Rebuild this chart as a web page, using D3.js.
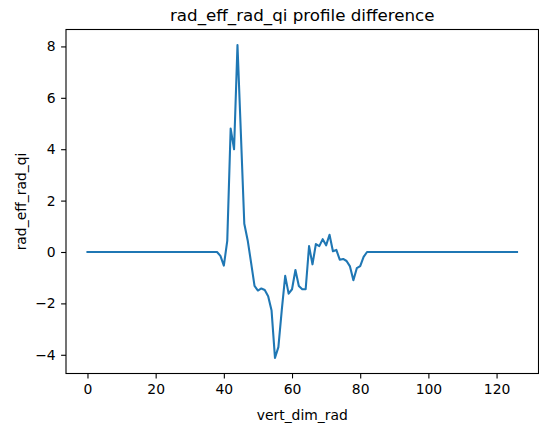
<!DOCTYPE html>
<html>
<head>
<meta charset="utf-8">
<script src="https://cdn.jsdelivr.net/npm/d3@7"></script>
<style>
  body { margin: 0; background: #fff; }
  text { font-family: "DejaVu Sans", sans-serif; fill: #000; }
</style>
</head>
<body>
<div id="chart"></div>
<script>
// profile difference values, one per vert_dim_rad level (0..126)
let diff = [
  0, 0, 0, 0, 0, 0, 0, 0, 0, 0,
  0, 0, 0, 0, 0, 0, 0, 0, 0, 0,
  0, 0, 0, 0, 0, 0, 0, 0, 0, 0,
  0, 0, 0, 0, 0, 0, 0, 0, 0, -0.15,
  -0.53, 0.43, 4.8, 4.0, 8.05, 4.6, 1.1, 0.45, -0.42, -1.32,
  -1.5, -1.42, -1.48, -1.72, -2.28, -4.12, -3.7, -2.25, -0.93, -1.62,
  -1.45, -0.7, -1.32, -1.45, -1.45, 0.23, -0.48, 0.31, 0.23, 0.5,
  0.26, 0.67, 0.03, 0.08, -0.3, -0.27, -0.35, -0.56, -1.1, -0.63,
  -0.55, -0.19, 0, 0, 0, 0, 0, 0, 0, 0,
  0, 0, 0, 0, 0, 0, 0, 0, 0, 0,
  0, 0, 0, 0, 0, 0, 0, 0, 0, 0,
  0, 0, 0, 0, 0, 0, 0, 0, 0, 0,
  0, 0, 0, 0, 0, 0, 0
]
let xTicks = [0, 20, 40, 60, 80, 100, 120]
let yTicks = [-4, -2, 0, 2, 4, 6, 8]

let title = "rad_eff_rad_qi profile difference"
let xLabel = "vert_dim_rad"
let yLabel = "rad_eff_rad_qi"

let data = diff.map((v, i) => ({level: i, value: v}))

var W = 539, H = 431
var margin = {top: 29.5, right: 0.5, bottom: 57.5, left: 66}
var width = W - margin.left - margin.right,
    height = H - margin.top - margin.bottom

var svg = d3.select("#chart")
  .append("svg")
  .attr("width", W)
  .attr("height", H)
  .append("g")
  .attr("transform", "translate(" + margin.left + "," + margin.top + ")")

// matplotlib style 5% margins
var xExt = d3.extent(data, d => d.level)
var yExt = d3.extent(data, d => d.value)
var xPad = (xExt[1] - xExt[0]) * 0.05
var yPad = (yExt[1] - yExt[0]) * 0.05

var x = d3.scaleLinear()
  .domain([xExt[0] - xPad, xExt[1] + xPad])
  .range([0, width])

var y = d3.scaleLinear()
  .domain([yExt[0] - yPad, yExt[1] + yPad])
  .range([height, 0])

svg.append("path")
  .attr("d", d3.line().x(d => x(d.level)).y(d => y(d.value))(data))
  .attr("stroke", "#1f77b4")
  .attr("stroke-width", 2.08)
  .attr("stroke-linejoin", "round")
  .attr("stroke-linecap", "square")
  .attr("fill", "none")

// axes
var xAxis = svg.append("g")
  .attr("transform", "translate(0," + height + ")")
  .call(d3.axisBottom(x).tickValues(xTicks).tickSize(4.9).tickPadding(5.5).tickFormat(d3.format("d")))
xAxis.select(".domain").remove()
xAxis.selectAll("line").attr("stroke", "#000").attr("stroke-width", 1.1)
xAxis.selectAll("text").attr("font-size", "13.9px").attr("font-family", "DejaVu Sans").attr("fill", "#000")

var yAxis = svg.append("g")
  .call(d3.axisLeft(y).tickValues(yTicks).tickSize(4.9).tickPadding(5.5).tickFormat(d3.format("d")))
yAxis.select(".domain").remove()
yAxis.selectAll("line").attr("stroke", "#000").attr("stroke-width", 1.1)
yAxis.selectAll("text").attr("font-size", "13.9px").attr("font-family", "DejaVu Sans").attr("fill", "#000")

// frame
svg.append("rect")
  .attr("x", 0)
  .attr("y", 0)
  .attr("width", width)
  .attr("height", height)
  .attr("fill", "none")
  .attr("stroke", "#000")
  .attr("stroke-width", 1.1)

svg.append("text")
  .attr("x", width / 2)
  .attr("y", -8.3)
  .attr("text-anchor", "middle")
  .style("font-size", "16.7px")
  .text(title)

svg.append("text")
  .attr("x", width / 2)
  .attr("y", height + 46.5)
  .attr("text-anchor", "middle")
  .style("font-size", "13.9px")
  .text(xLabel)

svg.append("text")
  .attr("transform", "rotate(-90)")
  .attr("x", -height / 2)
  .attr("y", -40.5)
  .attr("text-anchor", "middle")
  .style("font-size", "13.9px")
  .text(yLabel)
</script>
</body>
</html>
